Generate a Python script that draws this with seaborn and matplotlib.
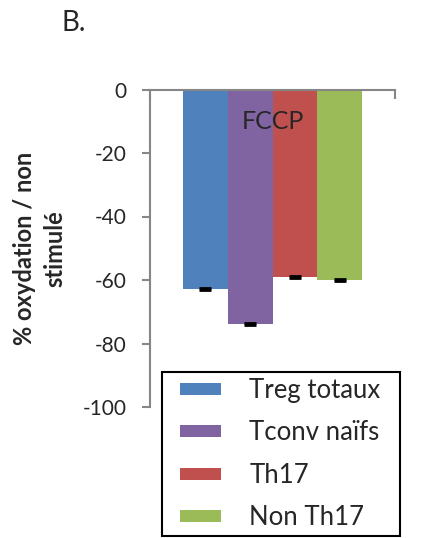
import pandas as pd
import seaborn as sns
import matplotlib.pyplot as plt
from matplotlib.patches import Rectangle

# Données (FCCP, % par rapport au non stimulé)
groupes = ["Treg totaux", "Tconv naïfs", "Th17", "Non Th17"]
valeurs = [-62.8, -73.9, -59.0, -60.0]
erreurs = [0.3, 0.3, 0.3, 0.3]
couleurs = ["#4F81BD", "#8064A2", "#C0504D", "#9BBB59"]
graduations_y = [0, -20, -40, -60, -80, -100]

sns.set_style("white")
plt.rcParams['font.family'] = ['Lato', 'DejaVu Sans']

gris = "#868686"

df = pd.DataFrame({"condition": "FCCP", "groupe": groupes, "valeur": valeurs})

fig = plt.figure(figsize=(4.42, 5.38), dpi=100)
ax = fig.add_axes([150 / 442, 1 - 407 / 538, 245 / 442, (407 - 89.5) / 538])

sns.barplot(data=df, x="condition", y="valeur", hue="groupe", hue_order=groupes,
            palette=couleurs, width=0.73, saturation=1, errorbar=None,
            linewidth=0, ax=ax)

# barres d'erreur (très petites)
for cont, v, e in zip(ax.containers, valeurs, erreurs):
    for p in cont:
        xc = p.get_x() + p.get_width() / 2
        ax.errorbar(xc, v, yerr=e, fmt="none", ecolor="black",
                    elinewidth=1.2, capsize=4.3, capthick=2)

ax.set_ylim(-100, 0)
ax.set_xlim(-0.5, 0.5)
ax.set_yticks(graduations_y)
ax.set_yticklabels([str(t) for t in graduations_y], fontsize=15)
ax.xaxis.set_ticks_position("top")
ax.set_xticks([-0.5, 0.5])
ax.set_xticklabels(["", ""])
ax.set_xlabel("")
ax.tick_params(axis="x", direction="in", length=6.5, width=1.5, color=gris)
ax.tick_params(axis="y", direction="out", length=6, width=1.5, color=gris, pad=11, left=True)

for s in ["bottom", "right"]:
    ax.spines[s].set_visible(False)
for s in ["top", "left"]:
    ax.spines[s].set_color(gris)
    ax.spines[s].set_linewidth(1.5)

ax.set_ylabel("% oxydation / non\nstimulé", fontsize=17, fontweight="bold",
              linespacing=1.4)
ax.yaxis.set_label_coords(-0.34, 0.5)

ax.text(0, -10, "FCCP", ha="center", va="center", fontsize=18)

# légende
leg = ax.legend(loc="upper left", bbox_to_anchor=(180 / 442, 1 - 378 / 538),
                bbox_transform=fig.transFigure, frameon=False, fontsize=18.5,
                handlelength=1.6, handleheight=0.36, handletextpad=1.1,
                labelspacing=0.68, borderpad=0, borderaxespad=0)
fig.patches.append(Rectangle((162 / 442, 1 - 536 / 538), 238 / 442, 164 / 538,
                             transform=fig.transFigure, fill=False,
                             edgecolor="black", linewidth=1.5))

fig.text(62 / 442, 1 - 31 / 538, "B.", fontsize=20)

plt.savefig("out.png", dpi=100)
